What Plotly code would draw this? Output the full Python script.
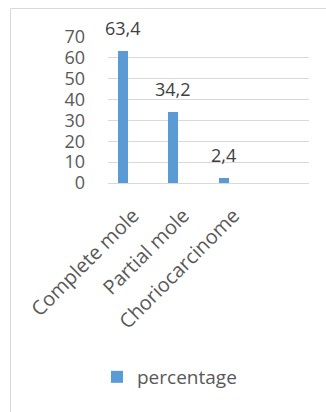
import plotly.graph_objects as go

categories = ["Complete mole", "Partial mole", "Choriocarcinome"]
values = [63.4, 34.2, 2.4]
labels = ["63,4", "34,2", "2,4"]
series_name = "percentage"
y_ticks = [0, 10, 20, 30, 40, 50, 60, 70]

W, H = 326, 412
ml, mr, mt, mb = 108, 17, 37, 229
pw = W - ml - mr
ph = H - mt - mb

def px_to_paper_x(px):
    return (px - ml) / pw

def px_to_paper_y(py):
    return (H - mb - py) / ph

xs = list(range(len(categories)))
font_family = "Open Sans, Liberation Sans, sans-serif"
grey = "#595959"

fig = go.Figure()
fig.add_trace(go.Bar(
    x=xs, y=values, name=series_name,
    marker=dict(color="#5B9BD5", line=dict(width=0)),
    width=0.2, offset=-0.3,
    showlegend=True,
))

for xi, v, t in zip(xs, values, labels):
    fig.add_annotation(x=xi - 0.2, y=v, text=t, showarrow=False,
                       xref="x", yref="y", yanchor="middle", yshift=23,
                       font=dict(family=font_family, size=18, color="#404040"))

fig.add_shape(type="rect", xref="paper", yref="paper",
              x0=px_to_paper_x(10.5), x1=px_to_paper_x(340),
              y0=px_to_paper_y(430), y1=px_to_paper_y(8.5),
              line=dict(color="#d9d9d9", width=1), fillcolor="rgba(0,0,0,0)",
              layer="below")

fig.update_layout(
    width=W, height=H,
    margin=dict(l=ml, r=mr, t=mt, b=mb, pad=0),
    paper_bgcolor="white", plot_bgcolor="white",
    font=dict(family=font_family, size=18, color=grey),
    xaxis=dict(
        tickmode="array", tickvals=xs, ticktext=categories,
        range=[-0.5, 3.5], tickangle=-45, showgrid=False, zeroline=False,
        showline=False, ticks="", ticklabelstandoff=16,
        tickfont=dict(size=20, color=grey),
    ),
    yaxis=dict(
        range=[0, 70], tickmode="array", tickvals=y_ticks,
        showgrid=True, gridcolor="#d9d9d9", gridwidth=1,
        zeroline=True, zerolinecolor="#d9d9d9", zerolinewidth=1,
        showline=False, ticks="", ticklabelstandoff=22,
        tickfont=dict(size=18, color=grey),
    ),
    legend=dict(orientation="h", x=px_to_paper_x(97), xanchor="left",
                y=px_to_paper_y(377), yanchor="middle",
                font=dict(size=19, color=grey), bgcolor="rgba(0,0,0,0)"),
    bargap=0,
)

fig.write_html("out.html")
